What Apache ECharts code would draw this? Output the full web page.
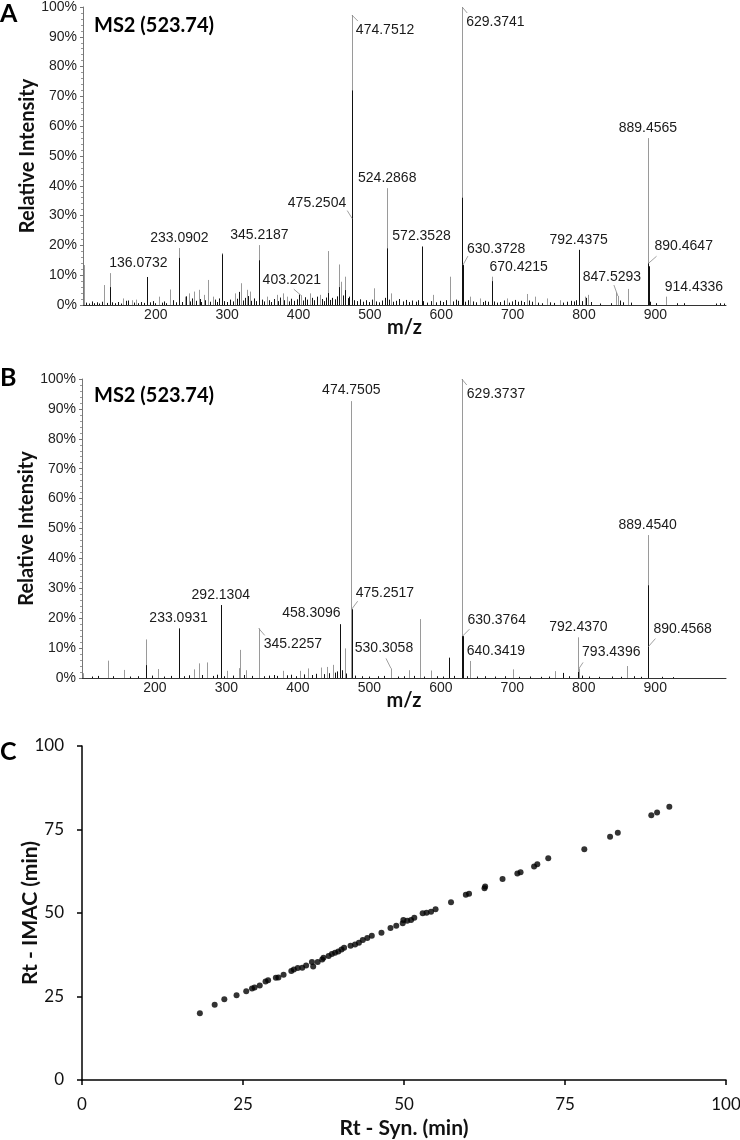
<!DOCTYPE html>
<html>
<head>
<meta charset="utf-8">
<title>MS2 spectra and retention time</title>
<script src="https://cdn.jsdelivr.net/npm/echarts@6/dist/echarts.min.js"></script>
<style>
  html, body { margin: 0; padding: 0; background: #fff; }
  #main { width: 740px; height: 1140px; }
</style>
</head>
<body>
<div id="main"></div>
<script>
// ---- panel A : spectrum, light trace [m/z, %] ----
var aLight = [[99.7,13.4],[128.1,6.7],[136.07,10.7],[154.7,2.2],[166.5,1.6],[172,1.8],[187.5,9.4],[204.8,2.8],[220.2,5.2],
  [233.09,19.1],[240.3,2.8],[245.9,3.9],[252.9,4.5],[259.9,5.1],[266.9,3.4],[273.4,8.4],[280.8,2.8],[292.1,17.4],[311.2,3.9],
  [319.6,7.3],[327.6,5.1],[331.5,4.5],[345.22,20.1],[355.6,2.8],[369.7,3.4],[377.6,3.9],[383.7,2.8],[403.2,3.3],[416.3,3.9],
  [430.3,3.4],[441.5,18.1],[457.4,13.6],[459.8,7.8],[465.3,9.5],[474.75,97.3],[506,5.6],[524.29,39.2],[529.4,3.9],
  [572.35,19.6],[589,3.4],[612.4,9.5],[629.37,100],[640.5,2.8],[654.5,2.2],[670.42,9.5],[691.8,2.2],[719.9,3.7],
  [731.5,2.8],[747.9,2.2],[766.5,1.6],[792.44,18.5],[801.6,2.8],[806.2,3.4],[845,4.2],[847.53,3],[862.2,5.4],
  [889.46,56],[915.1,2.8]];
// panel A : dark trace
var aDark = [[136.07,6],[187.5,9.4],[233.09,15.8],[292.1,17],[345.22,15],[441.5,4],[457.4,6],[465.3,5],[474.75,72],
  [475.25,29],[524.29,19],[572.35,19.6],[629.37,36],[630.37,13.4],[670.42,8],[792.44,18.5],[889.46,14],[890.46,13],
  [102,0.8],[106,0.5],[110,1.2],[113,0.6],[117,0.9],[121,0.5],[124,1.1],[131,0.7],[139,0.9],[143,0.6],[147,1.0],[151,0.5],
  [158,1.4],[161,1.5],[169,0.8],[175,0.6],[179,1.0],[183,0.7],[192,0.9],[196,1.3],[199,0.6],[208,0.8],[212,1.2],[215,0.6],
  [224,1.6],[228,0.9],[237,1.0],[243,2.9],[248,1.2],[251,2.2],[256,1.4],[262,2.0],[264,1.0],[269,1.6],[276,1.1],[283,1.8],
  [286,1.0],[289,2.2],[296,1.3],[300,1.0],[304,1.8],[308,1.2],[314,2.1],[317,4.4],[322,1.5],[325,2.4],[329,3.0],[333,1.4],
  [337,2.2],[341,1.3],[349,1.8],[352,1.2],[358,1.6],[362,1.0],[366,2.0],[371,1.3],[374,2.5],[379,1.6],[386,1.2],[390,2.1],
  [394,1.4],[398,1.9],[401,3.5],[406,1.5],[409,2.6],[412,1.8],[419,2.4],[422,1.6],[426,2.8],[433,2.0],[436,1.3],[439,2.5],
  [444,1.7],[447,2.4],[451,1.9],[454,2.9],[462,3.2],[469,2.3],[471,2.8],[478,1.6],[482,1.3],[486,1.9],[490,1.1],[494,1.6],
  [499,1.0],[503,1.8],[509,1.2],[513,0.9],[517,1.5],[521,2.4],[527,1.8],[532,1.1],[537,1.4],[541,2.0],[546,1.2],[550,1.7],
  [555,1.0],[559,1.5],[564,1.1],[568,1.6],[575,1.3],[580,0.8],[585,1.3],[593,0.9],[598,1.4],[603,1.0],[607,1.6],[616,1.2],
  [620,1.8],[624,1.4],[633,1.1],[637,1.6],[645,1.2],[649,0.9],[658,1.0],[662,1.4],[666,1.1],[674,1.2],[678,0.8],[683,1.0],
  [688,1.5],[695,0.8],[699,1.2],[703,1.7],[708,1.1],[712,1.4],[716,1.0],[723,1.5],[727,1.1],[735,0.8],[741,0.6],[753,0.9],
  [758,0.7],[771,0.8],[776,1.1],[782,1.4],[786,1.2],[789,1.6],[797,1.3],[803,2.4],[810,1.0],[822,0.5],[838,0.6],[850,1.5],
  [855,0.9],[866,0.8],[893,1.1],[901,0.6],[930,0.6],[940,0.6],[985,0.5],[990,0.6],[996,0.5]];
var aLabelText = ['136.0732','233.0902','345.2187','403.2021','474.7512','475.2504','524.2868','572.3528','629.3741',
  '630.3728','670.4215','792.4375','847.5293','889.4565','890.4647','914.4336'];
var aLabelH = [10.7,19.1,20.1,3.3,97.3,29,39.2,19.6,100,13.4,9.5,18.5,3,56,14,2.8];

// ---- panel B ----
var bLight = [[99.6,1.6],[134.9,5.8],[157.2,2.7],[187.8,12.9],[204.3,3],[254.3,2.9],[261.3,4.9],[273.1,5.2],[301.3,2.4],
  [317.2,3.3],[319.5,9.4],[327.8,2.6],[345.23,16.6],[378.9,2.4],[402.4,2.4],[414.2,3.2],[431.8,3.5],[440.6,3.7],[449.5,4.4],
  [459.5,8.8],[465.3,9.9],[474.75,92.6],[530.31,3.2],[555.3,2.6],[570.6,19.7],[585.9,2.5],[629.37,100],[640.34,5.7],
  [700.5,2.9],[759.9,2.3],[792.44,13.6],[793.44,3.2],[861,4.0],[889.45,47.8]];
var bDark = [[187.8,4.3],[233.09,16.6],[292.13,24.4],[458.31,18],[475.25,23],[611.2,6.8],[629.37,14],[630.38,14],
  [771.6,1.7],[792.44,2],[889.45,31],[890.46,10.5],
  [112,0.5],[120,0.7],[141,0.6],[165,0.5],[176,0.6],[196,0.8],[213,0.5],[222,0.7],[241,0.6],[248,0.9],[266,1.0],[281,0.7],
  [287,1.1],[296,0.6],[309,0.8],[324,1.0],[336,0.7],[352,0.6],[360,0.8],[366,1.0],[371,0.7],[385,0.9],[391,1.1],[397,0.6],
  [408,1.2],[420,1.0],[425,1.4],[436,1.3],[444,1.6],[452,1.8],[455,2.2],[462,2.6],[468,1.5],[480,0.8],[490,0.6],[500,0.5],
  [512,0.6],[520,0.7],[540,0.5],[548,0.6],[562,0.7],[577,0.5],[595,0.6],[603,0.5],[618,0.7],[636,0.6],[650,0.5],[662,0.6],
  [676,0.5],[690,0.6],[710,0.4],[725,0.5],[740,0.4],[752,0.5],[780,0.6],[798,0.8],[808,0.5],[822,0.4],[840,0.5],[852,0.4],
  [870,0.6],[880,0.4],[910,0.4],[925,0.3]];
var bLabelText = ['233.0931','292.1304','345.2257','458.3096','474.7505','475.2517','530.3058','629.3737','630.3764',
  '640.3419','792.4370','793.4396','889.4540','890.4568'];
var bLabelH = [16.6,24.4,16.6,18,92.6,23,3.2,100,14,5.7,13.6,3.2,47.8,10.5];

// ---- panel C : retention times ----
var rtSyn = [18.3,20.6,22.1,24.0,25.5,26.4,26.8,27.6,28.5,28.9,30.1,30.5,31.3,32.5,32.9,33.5,34.2,34.8,35.7,35.9,36.6,
  37.3,37.5,38.3,38.8,39.3,39.8,40.3,40.7,41.7,42.4,43.0,43.6,44.3,45.0,46.5,47.9,48.8,49.8,49.9,50.5,51.1,51.6,52.9,
  53.5,54.2,54.9,57.3,59.6,60.1,62.5,62.6,65.3,67.6,68.1,70.2,70.7,72.4,78.0,82.0,83.2,88.4,89.3,91.2];
var rtImac = [20.0,22.5,24.2,25.4,26.6,27.4,27.7,28.3,29.5,29.9,30.6,30.7,31.5,32.6,33.1,33.5,33.6,34.3,35.3,34.0,35.3,
  36.1,36.6,37.1,37.7,38.1,38.5,39.1,39.6,40.2,40.6,41.1,41.9,42.5,43.2,44.1,45.5,46.2,46.9,47.9,47.7,47.9,48.6,49.9,
  50.1,50.4,51.1,53.2,55.5,55.8,57.4,57.9,60.2,61.8,62.2,63.9,64.6,66.4,69.1,72.8,74.0,79.3,80.1,81.8];

// label placement: [align, dx, dy, leaderDx, leaderDy]
var aLabelPos = {
  '136.0732': ['left', -1, -10], '233.0902': ['center', 0, -10], '345.2187': ['center', 0, -10],
  '403.2021': ['center', -9, -15, -7, -6], '474.7512': ['left', 4, 15, 6, 6], '475.2504': ['right', -6, -15, -5, -8],
  '524.2868': ['center', 0, -10], '572.3528': ['center', 0, -10], '629.3741': ['left', 4, 15, 5, 6],
  '630.3728': ['left', 4, -16, 5, -9], '670.4215': ['left', -2, -10], '792.4375': ['center', 0, -10],
  '847.5293': ['center', -6, -19, -4, -11], '889.4565': ['center', 0, -10], '890.4647': ['left', 6, -17, 8, -7],
  '914.4336': ['left', -1, -10]
};
var bLabelPos = {
  '233.0931': ['center', 0, -10], '292.1304': ['center', 0, -10], '345.2257': ['left', 5, 16, 6, 7],
  '458.3096': ['right', 1, -11], '474.7505': ['center', 0, -11], '475.2517': ['left', 4, -16, 6, -8],
  '530.3058': ['center', -7, -20, -5, -10], '629.3737': ['left', 5, 15, 5, 6], '630.3764': ['left', 5, -16, 7, -7],
  '640.3419': ['left', -3, -10], '792.4370': ['center', 0, -10], '793.4396': ['left', 3, -16, 4, -6],
  '889.4540': ['center', 0, -10], '890.4568': ['left', 5, -17, 7, -8]
};

var SANS = '"Liberation Sans", Arial, sans-serif';
var LATO = 'Lato, "Open Sans", sans-serif';

function stickSeries(idx, data, color) {
  return {
    type: 'custom', xAxisIndex: idx, yAxisIndex: idx, silent: true, data: data,
    renderItem: function (params, api) {
      var top = api.coord([api.value(0), api.value(1)]);
      var base = api.coord([api.value(0), 0]);
      var x = Math.round(top[0]) + 0.5;
      return { type: 'line', shape: { x1: x, y1: base[1], x2: x, y2: top[1] },
        style: { stroke: color, lineWidth: 1 } };
    }
  };
}

function labelSeries(idx, texts, heights, pos) {
  return {
    type: 'custom', xAxisIndex: idx, yAxisIndex: idx, silent: true, z: 5,
    data: texts.map(function (t, i) { return [parseFloat(t), heights[i]]; }),
    renderItem: function (params, api) {
      var t = texts[params.dataIndex];
      var p = pos[t];
      var pt = api.coord([api.value(0), api.value(1)]);
      var kids = [{
        type: 'text', x: pt[0] + p[1], y: pt[1] + p[2],
        style: { text: t, fill: '#1a1a1a', font: '14px ' + SANS, align: p[0], verticalAlign: 'middle' }
      }];
      if (p.length > 3) {
        kids.push({ type: 'line', shape: { x1: pt[0], y1: pt[1], x2: pt[0] + p[3], y2: pt[1] + p[4] },
          style: { stroke: '#888', lineWidth: 0.8 } });
      }
      return { type: 'group', children: kids };
    }
  };
}

function mzAxis(idx) {
  return {
    type: 'value', gridIndex: idx, min: 98, max: 999, splitNumber: 9, minInterval: 100, maxInterval: 100,
    name: 'm/z', nameLocation: 'middle', nameGap: 13, nameMoveOverlap: false,
    nameTextStyle: { fontFamily: LATO, fontWeight: 'bold', fontSize: 20, color: '#111' },
    axisLine: { lineStyle: { color: '#333', width: 1 } },
    axisTick: { show: false }, splitLine: { show: false },
    axisLabel: { fontFamily: SANS, fontSize: 14, color: '#222', margin: 3,
      formatter: function (v) { return (v >= 200 && v <= 900) ? v : ''; } }
  };
}

function pctAxis(idx) {
  return {
    type: 'value', gridIndex: idx, min: 0, max: 100, interval: 10,
    name: 'Relative Intensity', nameLocation: 'middle', nameGap: 45, nameRotate: 90, nameMoveOverlap: false,
    nameTextStyle: { fontFamily: LATO, fontWeight: 'bold', fontSize: 20, color: '#111' },
    axisLine: { show: true, lineStyle: { color: '#777', width: 1 } },
    axisTick: { show: true, length: 3, lineStyle: { color: '#777' } },
    minorTick: { show: true, splitNumber: 5, length: 2, lineStyle: { color: '#999' } },
    splitLine: { show: false },
    axisLabel: { fontFamily: SANS, fontSize: 14, color: '#222', margin: 6, formatter: '{value}%' }
  };
}

function rtAxis(idx, name, gap, margin) {
  return {
    type: 'value', gridIndex: idx, min: 0, max: 100, interval: 25,
    name: name, nameLocation: 'middle', nameGap: gap, nameMoveOverlap: false,
    nameTextStyle: { fontFamily: LATO, fontWeight: 'bold', fontSize: 21, color: '#111' },
    axisLine: { show: true, lineStyle: { color: '#000', width: 1.5 } },
    axisTick: { show: true, length: 5, lineStyle: { color: '#000', width: 1.5 } },
    splitLine: { show: false },
    axisLabel: { fontFamily: LATO, fontSize: 17, color: '#111', margin: margin }
  };
}

var chart = echarts.init(document.getElementById('main'));
var yC = rtAxis(2, 'Rt - IMAC (min)', 41, 18);
yC.nameRotate = 90;

var option = {
  animation: false,
  backgroundColor: '#fff',
  grid: [
    { left: 83, top: 7, width: 643, height: 298, outerBoundsMode: 'none' },
    { left: 82, top: 379, width: 644, height: 299, outerBoundsMode: 'none' },
    { left: 82, top: 746, width: 644, height: 334, outerBoundsMode: 'none' }
  ],
  xAxis: [mzAxis(0), mzAxis(1), rtAxis(2, 'Rt - Syn. (min)', 38, 16)],
  yAxis: [pctAxis(0), pctAxis(1), yC],
  graphic: [
    { type: 'text', x: 0, y: 14, style: { text: 'A', font: 'bold 25px ' + LATO, fill: '#000', verticalAlign: 'middle' } },
    { type: 'text', x: 94, y: 26, style: { text: 'MS2 (523.74)', font: 'bold 20px ' + LATO, fill: '#000', verticalAlign: 'middle' } },
    { type: 'text', x: 0, y: 378, style: { text: 'B', font: 'bold 25px ' + LATO, fill: '#000', verticalAlign: 'middle' } },
    { type: 'text', x: 94, y: 396, style: { text: 'MS2 (523.74)', font: 'bold 20px ' + LATO, fill: '#000', verticalAlign: 'middle' } },
    { type: 'text', x: 0, y: 752, style: { text: 'C', font: 'bold 25px ' + LATO, fill: '#000', verticalAlign: 'middle' } }
  ],
  series: [
    stickSeries(0, aLight, '#9a9a9a'),
    stickSeries(0, aDark, '#111'),
    labelSeries(0, aLabelText, aLabelH, aLabelPos),
    stickSeries(1, bLight, '#9a9a9a'),
    stickSeries(1, bDark, '#111'),
    labelSeries(1, bLabelText, bLabelH, bLabelPos),
    {
      type: 'scatter', xAxisIndex: 2, yAxisIndex: 2, symbolSize: 6,
      itemStyle: { color: '#000' },
      data: rtSyn.map(function (x, i) { return [x, rtImac[i]]; })
    }
  ]
};
chart.setOption(option);
</script>
</body>
</html>
